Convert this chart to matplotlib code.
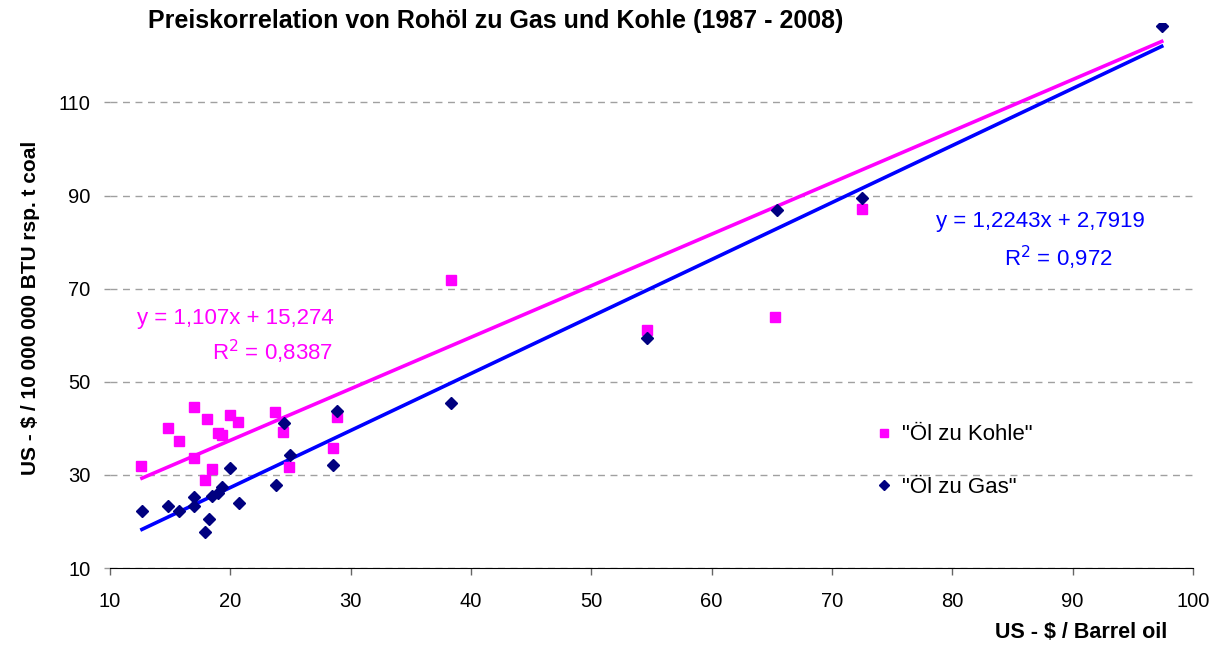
import numpy as np
import matplotlib
matplotlib.use("Agg")
from matplotlib import pyplot as plt

plt.rcParams['font.family'] = ['Liberation Sans', 'DejaVu Sans']

# Oil price (US-$/barrel) vs. coal price (US-$/t)
oil_coal = [12.6, 14.8, 15.7, 17.0, 17.0, 18.1, 17.9, 18.5, 19.0, 19.3,
            19.95, 20.6, 23.7, 24.4, 24.9, 28.5, 28.9, 38.3, 54.6, 65.3, 72.5]
coal = [32.0, 40.0, 37.2, 44.6, 33.7, 42.1, 28.8, 31.2, 39.0, 38.6,
        42.8, 41.4, 43.5, 39.3, 31.7, 35.8, 42.5, 71.8, 61.2, 63.8, 87.0]

# Oil price vs. gas price (US-$/10 000 000 BTU)
oil_gas = [12.66, 14.85, 15.76, 17.0, 17.0, 17.9, 18.2, 18.5, 19.0, 19.3,
           19.98, 20.7, 23.8, 24.5, 25.0, 28.5, 28.9, 38.3, 54.6, 65.4, 72.5, 97.4]
gas = [22.3, 23.4, 22.3, 25.2, 23.3, 17.7, 20.6, 25.5, 26.2, 27.3,
       31.4, 24.0, 27.9, 41.2, 34.3, 32.2, 43.7, 45.5, 59.5, 86.8, 89.4, 126.3]

# linear trendlines (slope, intercept, R^2)
fit_coal = (1.107, 15.274, 0.8387)
fit_gas = (1.2243, 2.7919, 0.972)

fig = plt.figure(figsize=(12.27, 6.47), dpi=100)
ax = fig.add_axes([0.0896, 0.1221, 0.8827, 0.842])

xs = np.array([min(oil_gas), max(oil_gas)])
ax.plot(xs, fit_coal[0] * xs + fit_coal[1], color='#FF00FF', lw=2.6, zorder=2)
ax.plot(xs, fit_gas[0] * xs + fit_gas[1], color='#0000FF', lw=2.6, zorder=2)

ax.plot(oil_coal, coal, 's', color='#FF00FF', ms=6.8, ls='none',
        label='"Öl zu Kohle"', zorder=3)
ax.plot(oil_gas, gas, 'D', color='#000080', ms=6.3, ls='none',
        label='"Öl zu Gas"', zorder=4)

ax.set_xlim(10, 100)
ax.set_ylim(10, 127)
ax.set_xticks(np.arange(10, 101, 10))
ax.set_yticks(np.arange(10, 111, 20))
ax.tick_params(labelsize=14.5, length=5, width=1, color='#666666')
ax.tick_params(axis='x', pad=12)
ax.tick_params(axis='y', pad=10, color='#999999', length=4)
for sp in ('top', 'right', 'left'):
    ax.spines[sp].set_visible(False)
ax.yaxis.grid(True, ls=(0, (5, 4)), color='#A0A0A0', lw=1)
ax.set_axisbelow(True)

fig.text(0.121, 0.968, 'Preiskorrelation von Rohöl zu Gas und Kohle (1987 - 2008)',
         fontsize=18, fontweight='bold', va='center')
fig.text(0.951, 0.022, 'US - $ / Barrel oil', fontsize=15.5, fontweight='bold',
         ha='right', va='center')
fig.text(0.0245, 0.524, 'US - $ / 10 000 000 BTU rsp. t coal', fontsize=15,
         fontweight='bold', rotation=90, ha='center', va='center')

fig.text(0.1915, 0.508, f'y = {fit_coal[0]:.3f}x + {fit_coal[1]:.3f}'.replace('.', ','),
         fontsize=16, color='#FF00FF', ha='center', va='center')
fig.text(0.222, 0.456, f'R$^2$ = {fit_coal[2]}'.replace('.', ','),
         fontsize=16, color='#FF00FF', ha='center', va='center')
fig.text(0.848, 0.657, f'y = {fit_gas[0]:.4f}x + {fit_gas[1]:.4f}'.replace('.', ','),
         fontsize=16, color='#0000FF', ha='center', va='center')
fig.text(0.862, 0.601, f'R$^2$ = {fit_gas[2]}'.replace('.', ','),
         fontsize=16, color='#0000FF', ha='center', va='center')

leg = ax.legend(loc='center left', bbox_to_anchor=(0.695, 0.2875),
                bbox_transform=fig.transFigure, frameon=False,
                fontsize=16, handletextpad=0.3, labelspacing=1.4,
                handlelength=1.0, borderpad=0.4)
for h in leg.legend_handles:
    h.set_markersize(5.5)

fig.savefig('out.png', dpi=100)
